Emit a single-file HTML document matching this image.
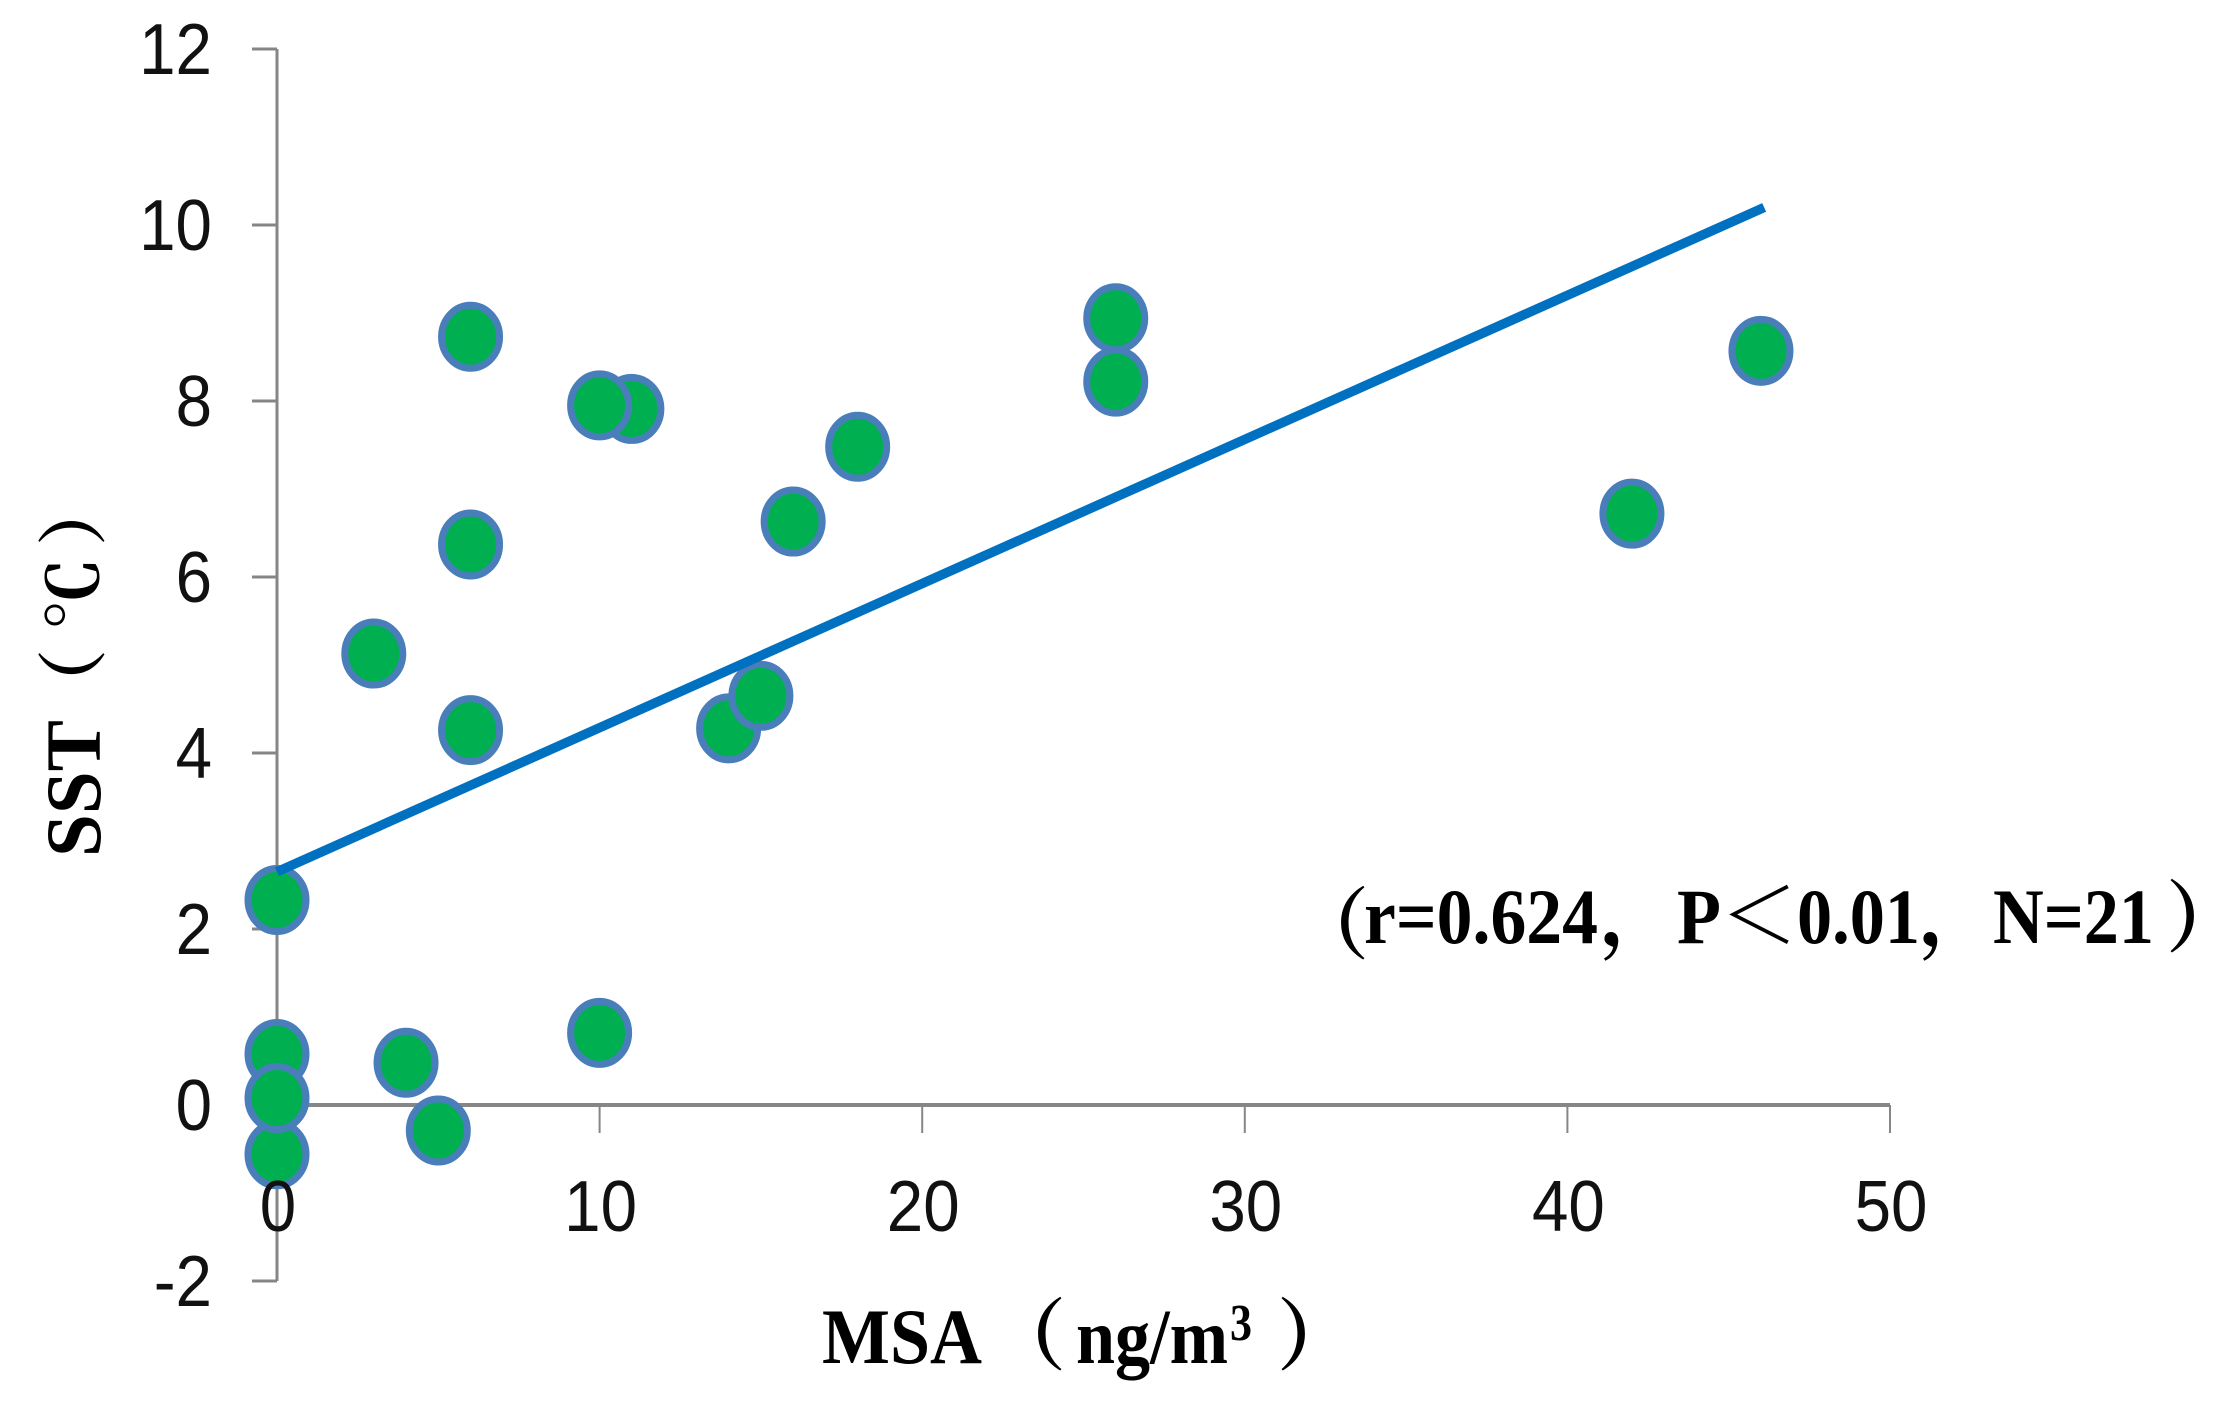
<!DOCTYPE html>
<html lang="zh">
<head>
<meta charset="utf-8">
<title>MSA vs SST scatter chart</title>
<style>
html,body{margin:0;padding:0;background:#fff;}
svg{display:block;}
.tick{font-family:"Liberation Sans","DejaVu Sans",sans-serif;font-size:72px;fill:#111;}
.title{font-family:"Liberation Serif","Noto Serif CJK SC",serif;font-weight:bold;font-size:78px;fill:#000;}
.cjk{font-family:"Liberation Serif","Noto Serif CJK SC",serif;font-weight:bold;font-size:78px;fill:#000;}
.cjk-small{font-family:"Liberation Serif","Noto Serif CJK SC",serif;font-weight:bold;font-size:70px;fill:#000;}
</style>
</head>
<body>
<svg id="chart" xmlns="http://www.w3.org/2000/svg" width="2217" height="1402" viewBox="0 0 2217 1402">
  <rect x="0" y="0" width="2217" height="1402" fill="#ffffff"/>
  <g id="axes"></g>
  <g id="points"></g>
  <g id="trend"></g>
  <g id="labels"></g>

  <g>
    <text class="title" x="822" y="1363" textLength="160" lengthAdjust="spacingAndGlyphs">MSA</text>
    <text class="cjk" x="988" y="1363">（</text>
    <text class="title" x="1076" y="1363" textLength="152" lengthAdjust="spacingAndGlyphs">ng/m</text>
    <text class="title" x="1230" y="1340" style="font-size:52px" textLength="22" lengthAdjust="spacingAndGlyphs">3</text>
    <text class="cjk" x="1277" y="1363">）</text>
  </g>

  <g>
    <g transform="translate(100,857) rotate(-90)">
      <text class="title" x="0" y="0" textLength="137" lengthAdjust="spacingAndGlyphs">SST</text>
      <text class="cjk-small" x="138" y="-2">（</text>
      <text class="cjk-small" x="227" y="-2" style="font-size:70px" textLength="72" lengthAdjust="spacingAndGlyphs">℃</text>
      <text class="cjk-small" x="311" y="-2">）</text>
    </g>
  </g>

  <g>
    <text class="cjk" x="1291" y="952">（</text>
    <text class="title" x="1364" y="943" textLength="234" lengthAdjust="spacingAndGlyphs">r=0.624</text>
    <text class="cjk" x="1600" y="943">，</text>
    <text class="title" x="1677" y="943" textLength="44" lengthAdjust="spacingAndGlyphs">P</text>
    <text class="cjk" x="1720" y="943">＜</text>
    <text class="title" x="1797" y="943" textLength="123" lengthAdjust="spacingAndGlyphs">0.01</text>
    <text class="cjk" x="1919" y="943">，</text>
    <text class="title" x="1993" y="943" textLength="161" lengthAdjust="spacingAndGlyphs">N=21</text>
    <text class="cjk" x="2166" y="945">）</text>
  </g>
</svg>

<script>
var msaValues = [6, 11, 10, 26, 26, 46, 42, 18, 16, 6, 3, 6, 14, 15, 0, 0, 0, 0, 4, 5, 10];
var sstValues = [8.73, 7.91, 7.95, 8.94, 8.22, 8.57, 6.72, 7.48, 6.63, 6.37, 5.13, 4.26, 4.28, 4.65, 2.33, 0.58, -0.56, 0.08, 0.48, -0.29, 0.82];
var trendMsa = [0, 46.1];
var trendSst = [2.65, 10.2];
var xTickLabels = [0, 10, 20, 30, 40, 50];
var yTickLabels = [12, 10, 8, 6, 4, 2, 0, -2];

var NS = 'http://www.w3.org/2000/svg';
function xScale(v) { return 277 + 32.26 * v; }
function yScale(v) { return 1105 - 88 * v; }
function make(tag, parent, attrs) {
  var el = document.createElementNS(NS, tag);
  for (var k in attrs) { el.setAttribute(k, attrs[k]); }
  parent.appendChild(el);
  return el;
}

var axes = document.getElementById('axes');
var pointsG = document.getElementById('points');
var trendG = document.getElementById('trend');
var labelsG = document.getElementById('labels');
var axisColor = '#868686';

var yAxis = make('line', axes, {x1: xScale(0), x2: xScale(0), y1: yScale(12), y2: yScale(-2), stroke: axisColor, 'stroke-width': 3});



var xAxis = make('line', axes, {x1: xScale(0), x2: xScale(50), y1: yScale(0), y2: yScale(0), stroke: axisColor, 'stroke-width': 4});



yTickLabels.forEach(function (v) {
  var t = make('line', axes, {x1: xScale(0) - 25, x2: xScale(0), y1: yScale(v), y2: yScale(v), stroke: axisColor, 'stroke-width': 3});
  
  
});

xTickLabels.forEach(function (v) {
  var t = make('line', axes, {x1: xScale(v), x2: xScale(v), y1: yScale(0), y2: yScale(0) + 28, stroke: axisColor, 'stroke-width': 2});
  
  
});

msaValues.forEach(function (m, i) {
  var c = make('ellipse', pointsG, {cx: xScale(m), cy: yScale(sstValues[i]), rx: 29, ry: 31.5, fill: '#00B050', stroke: '#4A7EBB', 'stroke-width': 7});
  
  
});

var trend = make('line', trendG, {x1: xScale(trendMsa[0]), y1: yScale(trendSst[0]), x2: xScale(trendMsa[1]), y2: yScale(trendSst[1]), stroke: '#0070C0', 'stroke-width': 9.5});



yTickLabels.forEach(function (v) {
  var t = make('text', labelsG, {'class': 'tick', transform: 'translate(212,' + (yScale(v) + 25) + ') scale(0.91,1)', 'text-anchor': 'end'});
  
  
  t.textContent = String(v);
});

xTickLabels.forEach(function (v) {
  var t = make('text', labelsG, {'class': 'tick', transform: 'translate(' + (xScale(v) + 1) + ',1231) scale(0.91,1)', 'text-anchor': 'middle'});
  
  
  t.textContent = String(v);
});
</script>
</body>
</html>
